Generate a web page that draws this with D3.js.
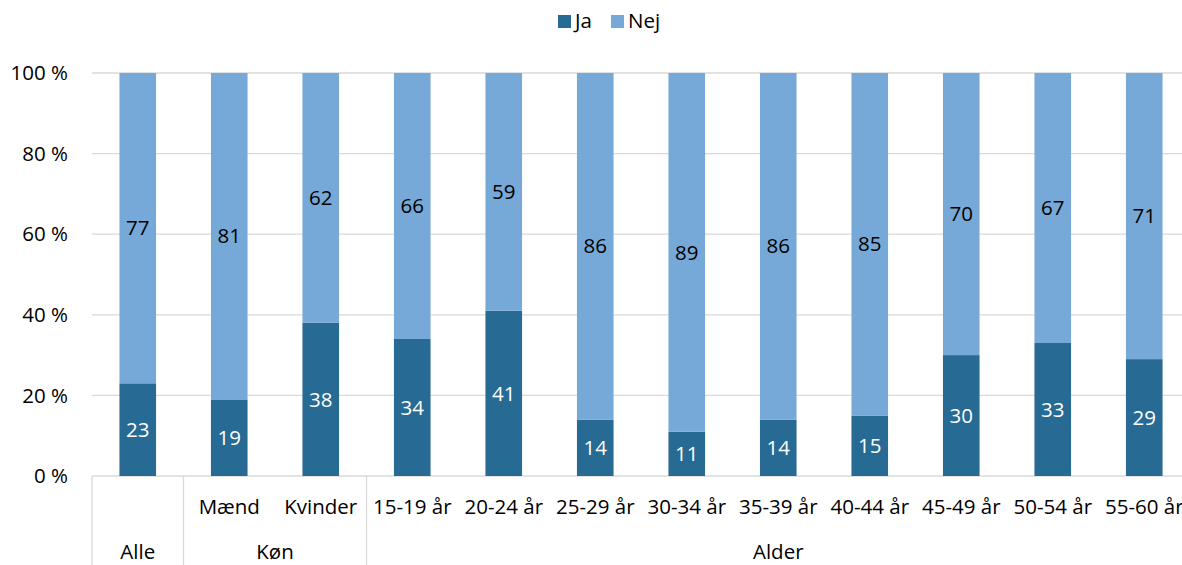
<!DOCTYPE html>
<html>
<head>
<meta charset="utf-8">
<script src="https://cdn.jsdelivr.net/npm/d3@7"></script>
<style>
  html, body { margin: 0; padding: 0; background: #fff; }
  svg { display: block; font-family: "Open Sans", "Liberation Sans", sans-serif; }
</style>
</head>
<body>
<svg id="chart" width="1182" height="565"></svg>
<script>
// Share answering yes / no, by group (percent)
const categories = ["Alle", "Mænd", "Kvinder", "15-19 år", "20-24 år", "25-29 år", "30-34 år",
                    "35-39 år", "40-44 år", "45-49 år", "50-54 år", "55-60 år"];
const groups = [
  { name: "Alle", from: 0, to: 0 },
  { name: "Køn", from: 1, to: 2 },
  { name: "Alder", from: 3, to: 11 }
];
const ja  = [23, 19, 38, 34, 41, 14, 11, 14, 15, 30, 33, 29];
const nej = [77, 81, 62, 66, 59, 86, 89, 86, 85, 70, 67, 71];
const yTicks = [0, 20, 40, 60, 80, 100];
const seriesNames = ["Ja", "Nej"];
const colors = { Ja: "#276a93", Nej: "#76a9d7" };

const svg = d3.select("#chart");
const plotL = 92, plotR = 1190, plotT = 73, plotB = 476;
const fs = 20.5;

const x = d3.scaleBand().domain(categories).range([plotL, plotR]).paddingInner(0.6).paddingOuter(0.3);
const y = d3.scaleLinear().domain([0, 100]).range([plotB, plotT]);

// gridlines
svg.append("g").selectAll("line").data(yTicks).join("line")
  .attr("x1", plotL).attr("x2", plotR)
  .attr("y1", d => y(d)).attr("y2", d => y(d))
  .attr("stroke", "#d9d9d9").attr("stroke-width", 1.3);

// y axis labels
svg.append("g").selectAll("text").data(yTicks).join("text")
  .attr("x", 68).attr("y", d => y(d)).attr("dy", "0.35em")
  .attr("text-anchor", "end").attr("font-size", fs).attr("fill", "#000")
  .text(d => d + " %");

// stacked bars
const rows = categories.map((c, i) => ({ cat: c, Ja: ja[i], Nej: nej[i] }));
const stack = d3.stack().keys(seriesNames)(rows);

const layer = svg.append("g").selectAll("g").data(stack).join("g")
  .attr("fill", d => colors[d.key]);
layer.selectAll("rect").data(d => d).join("rect")
  .attr("x", d => x(d.data.cat))
  .attr("width", x.bandwidth())
  .attr("y", d => y(d[1]))
  .attr("height", d => y(d[0]) - y(d[1]));

// value labels
const lab = svg.append("g").selectAll("g").data(stack).join("g")
  .attr("fill", d => d.key === "Ja" ? "#fff" : "#000");
lab.selectAll("text").data(d => d.map(p => ({ p, key: d.key }))).join("text")
  .attr("x", d => x(d.p.data.cat) + x.bandwidth() / 2)
  .attr("y", d => y((d.p[0] + d.p[1]) / 2))
  .attr("dy", "0.35em")
  .attr("text-anchor", "middle").attr("font-size", fs)
  .text(d => d.p.data[d.key]);

// category labels (first level)
svg.append("g").selectAll("text").data(categories.slice(1)).join("text")
  .attr("x", d => x(d) + x.bandwidth() / 2).attr("y", 507).attr("dy", "0.35em")
  .attr("text-anchor", "middle").attr("font-size", fs)
  .text(d => d);

// group labels (second level) and separators
const step = x.step();
const edge = i => x(categories[i]) - (step - x.bandwidth()) / 2;
svg.append("g").selectAll("text").data(groups).join("text")
  .attr("x", g => (edge(g.from) + edge(g.to) + step) / 2).attr("y", 552).attr("dy", "0.35em")
  .attr("text-anchor", "middle").attr("font-size", fs)
  .text(g => g.name);

const seps = groups.map(g => edge(g.from)).concat([plotR]);
svg.append("g").selectAll("line").data(seps).join("line")
  .attr("x1", d => d).attr("x2", d => d)
  .attr("y1", plotB).attr("y2", 565)
  .attr("stroke", "#d9d9d9").attr("stroke-width", 1.3);

// legend
const legend = svg.append("g").attr("font-size", fs);
const legItems = [{ k: "Ja", x: 558 }, { k: "Nej", x: 611 }];
legItems.forEach(it => {
  legend.append("rect").attr("x", it.x).attr("y", 15).attr("width", 13).attr("height", 13).attr("fill", colors[it.k]);
  legend.append("text").attr("x", it.x + 17).attr("y", 21).attr("dy", "0.35em").text(it.k);
});
</script>
</body>
</html>
